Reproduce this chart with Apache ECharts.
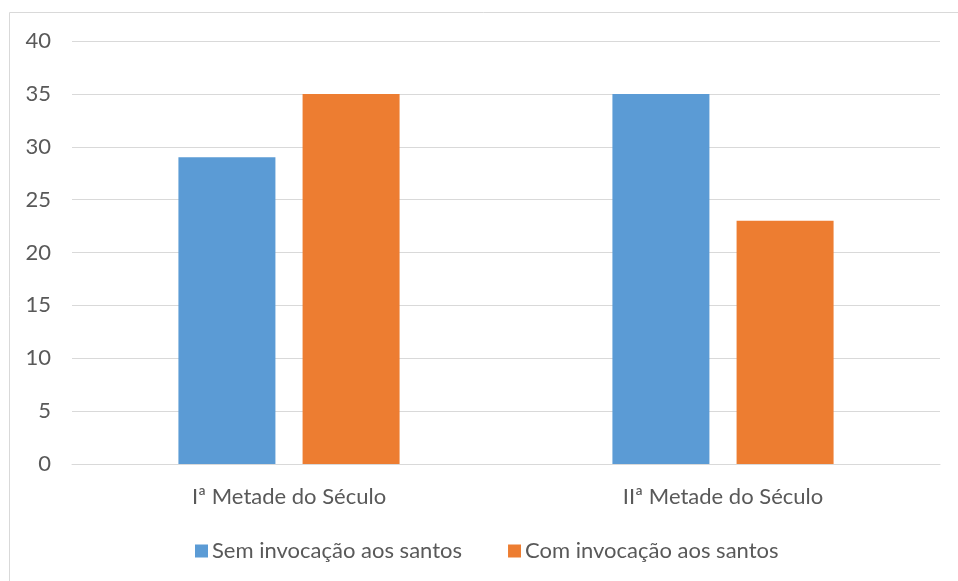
<!DOCTYPE html>
<html><head><meta charset="utf-8">
<script src="https://cdn.jsdelivr.net/npm/echarts@6/dist/echarts.min.js"></script>
<style>html,body{margin:0;padding:0;background:#fff}#c{width:958px;height:581px}</style>
</head><body><div id="c"></div>
<script>
const categories = ["Iª Metade do Século", "IIª Metade do Século"];
const seriesNames = ["Sem invocação aos santos", "Com invocação aos santos"];
const semValues = [29, 35];
const comValues = [35, 23];
const yTicks = {min: 0, max: 40, interval: 5};

const FONT = 'Lato';
const chart = echarts.init(document.getElementById('c'));
chart.setOption({
  animation: false,
  textStyle: {fontFamily: FONT},
  graphic: [
    {type: 'line', shape: {x1: 9.5, y1: 12.5, x2: 958, y2: 12.5}, style: {stroke: '#d9d9d9', lineWidth: 1}},
    {type: 'line', shape: {x1: 9.5, y1: 12.5, x2: 9.5, y2: 581}, style: {stroke: '#d9d9d9', lineWidth: 1}}
  ],
  grid: {left: 72, right: 18, top: 41, bottom: 117, containLabel: false},
  legend: {
    top: 535, left: 190,
    itemWidth: 13, itemHeight: 13, itemGap: 46,
    icon: 'rect',
    textStyle: {color: '#595959', fontSize: 22, fontFamily: FONT, padding: [0,0,0,-1]},
    data: seriesNames
  },
  xAxis: {
    type: 'category', data: categories,
    axisLine: {lineStyle: {color: '#d9d9d9', width: 1}},
    axisTick: {show: false},
    axisLabel: {color: '#595959', fontSize: 22, margin: 22, fontFamily: FONT}
  },
  yAxis: {
    type: 'value', min: yTicks.min, max: yTicks.max, interval: yTicks.interval,
    axisLine: {show: false}, axisTick: {show: false},
    splitLine: {lineStyle: {color: '#d9d9d9', width: 1}},
    axisLabel: {color: '#595959', fontSize: 22, margin: 21, fontFamily: FONT}
  },
  series: [
    {name: seriesNames[0], type: 'bar', data: semValues, barWidth: 97, barGap: '28%', itemStyle: {color: '#5b9bd5'}},
    {name: seriesNames[1], type: 'bar', data: comValues, barWidth: 97, barGap: '28%', itemStyle: {color: '#ed7d31'}}
  ]
});
</script></body></html>
